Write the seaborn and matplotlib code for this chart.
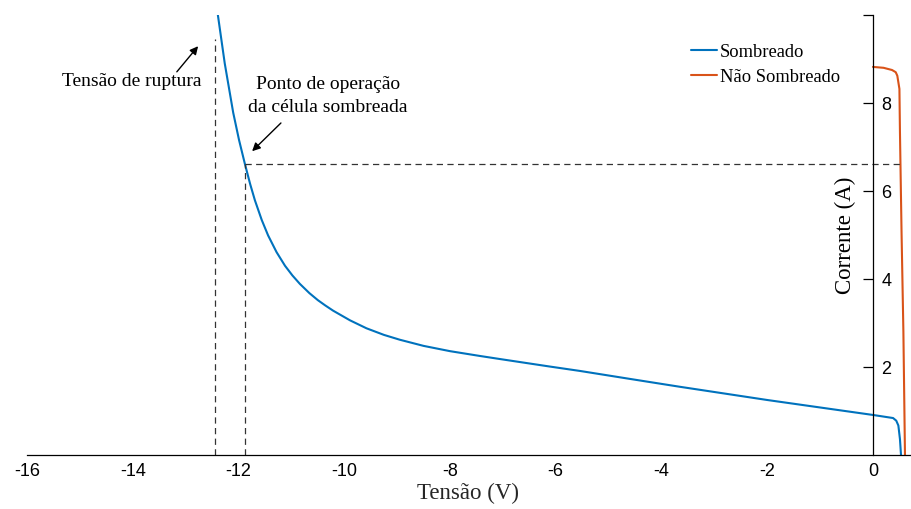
import matplotlib
matplotlib.use("Agg")
import matplotlib.pyplot as plt
import seaborn as sns
import pandas as pd

# ---- data ----
blue_v = [-12.39, -12.26, -12.10, -11.99, -11.88, -11.78, -11.69, -11.56, -11.44, -11.28,
          -11.12, -10.98, -10.84, -10.66, -10.50, -10.36, -10.21, -10.05, -9.89, -9.58,
          -9.25, -8.95, -8.50, -8.00, -7.43, -7.05, -6.11, -5.54, -4.60, -3.65,
          -2.00, 0.00, 0.38, 0.44, 0.48, 0.51, 0.53]
blue_i = [10.0, 8.90, 7.78, 7.16, 6.62, 6.16, 5.79, 5.34, 4.99, 4.61,
          4.30, 4.08, 3.89, 3.68, 3.52, 3.40, 3.28, 3.17, 3.06, 2.88,
          2.73, 2.62, 2.48, 2.36, 2.25, 2.18, 2.01, 1.91, 1.73, 1.55,
          1.25, 0.91, 0.84, 0.78, 0.67, 0.36, 0.0]
orange_v = [0.00, 0.20, 0.36, 0.43, 0.46, 0.50, 0.51, 0.54, 0.575, 0.605]
orange_i = [8.82, 8.80, 8.75, 8.70, 8.62, 8.32, 7.34, 5.07, 2.80, 0.0]
series_names = ["Sombreado", "Não Sombreado"]
x_ticks = [-16, -14, -12, -10, -8, -6, -4, -2, 0]
y_ticks = [2, 4, 6, 8, 10]
y_tick_labels = ["2", "4", "6", "8", ""]
breakdown_v = -12.44
op_v, op_i = -11.88, 6.62

sns.set_style("white")
plt.rcParams["font.family"] = ["Liberation Sans", "DejaVu Sans"]
plt.rcParams["text.color"] = "black"
plt.rcParams["xtick.color"] = "black"
plt.rcParams["ytick.color"] = "black"
plt.rcParams["axes.edgecolor"] = "black"
serif = ["Liberation Serif", "DejaVu Serif"]

df = pd.concat([
    pd.DataFrame({"V": blue_v, "I": blue_i, "s": series_names[0]}),
    pd.DataFrame({"V": orange_v, "I": orange_i, "s": series_names[1]}),
], ignore_index=True)

fig = plt.figure(figsize=(9.12, 5.09), dpi=100)
ax = fig.add_axes([27 / 912, 54 / 509, 883 / 912, 440 / 509])

sns.lineplot(data=df, x="V", y="I", hue="s", sort=False, estimator=None,
             palette=["#0072BD", "#D95319"], linewidth=1.5, ax=ax)

ax.set_xlim(-16, 0.7)
ax.set_ylim(0, 10)

# dashed guide lines
dkw = dict(color="#333333", lw=0.9, ls=(0, (5, 3.5)))
ax.plot([breakdown_v, breakdown_v], [0, 9.45], **dkw)
ax.plot([op_v, op_v], [0, op_i], **dkw)
ax.plot([op_v, 0.52], [op_i, op_i], **dkw)

# spines / ticks
ax.spines["top"].set_visible(False)
ax.spines["left"].set_visible(False)
ax.spines["right"].set_position(("data", 0))
ax.spines["right"].set_linewidth(0.9)
ax.spines["bottom"].set_linewidth(0.9)
ax.yaxis.tick_right()
ax.set_xticks(x_ticks)
ax.set_xticklabels([str(t) for t in x_ticks])
ax.set_yticks(y_ticks)
ax.set_yticklabels(y_tick_labels)
ax.tick_params(axis="x", direction="in", length=7, width=0.9, labelsize=13, pad=6)
ax.tick_params(axis="y", direction="in", length=7, width=0.9, labelsize=13, pad=6,
               left=False, right=True)

ax.set_xlabel("Tensão (V)", family=serif, fontsize=16.5, labelpad=2)
ax.set_ylabel("")
ax.text(-0.53, 5.0, "Corrente (A)", family=serif, fontsize=16.5, rotation=90,
        ha="center", va="center")

# annotations
akw = dict(arrowstyle="-|>", color="black", lw=1.0, mutation_scale=12)
ax.annotate("", xy=(-12.73, 9.34), xytext=(-13.20, 8.66), arrowprops=akw)
ax.text(-14.01, 8.48, "Tensão de ruptura", family=serif, fontsize=14,
        ha="center", va="center")
ax.annotate("", xy=(-11.78, 6.86), xytext=(-11.16, 7.59), arrowprops=akw)
ax.text(-10.31, 8.16, "Ponto de operação\nda célula sombreada", family=serif,
        fontsize=14, ha="center", va="center", linespacing=1.45)

leg = ax.legend(loc="upper left", bbox_to_anchor=(0.752, 0.935), frameon=False,
                borderpad=0, borderaxespad=0, handlelength=1.4, handletextpad=0.15,
                labelspacing=0.45, prop={"family": serif, "size": 13.3})

fig.savefig("out.png", dpi=100)
